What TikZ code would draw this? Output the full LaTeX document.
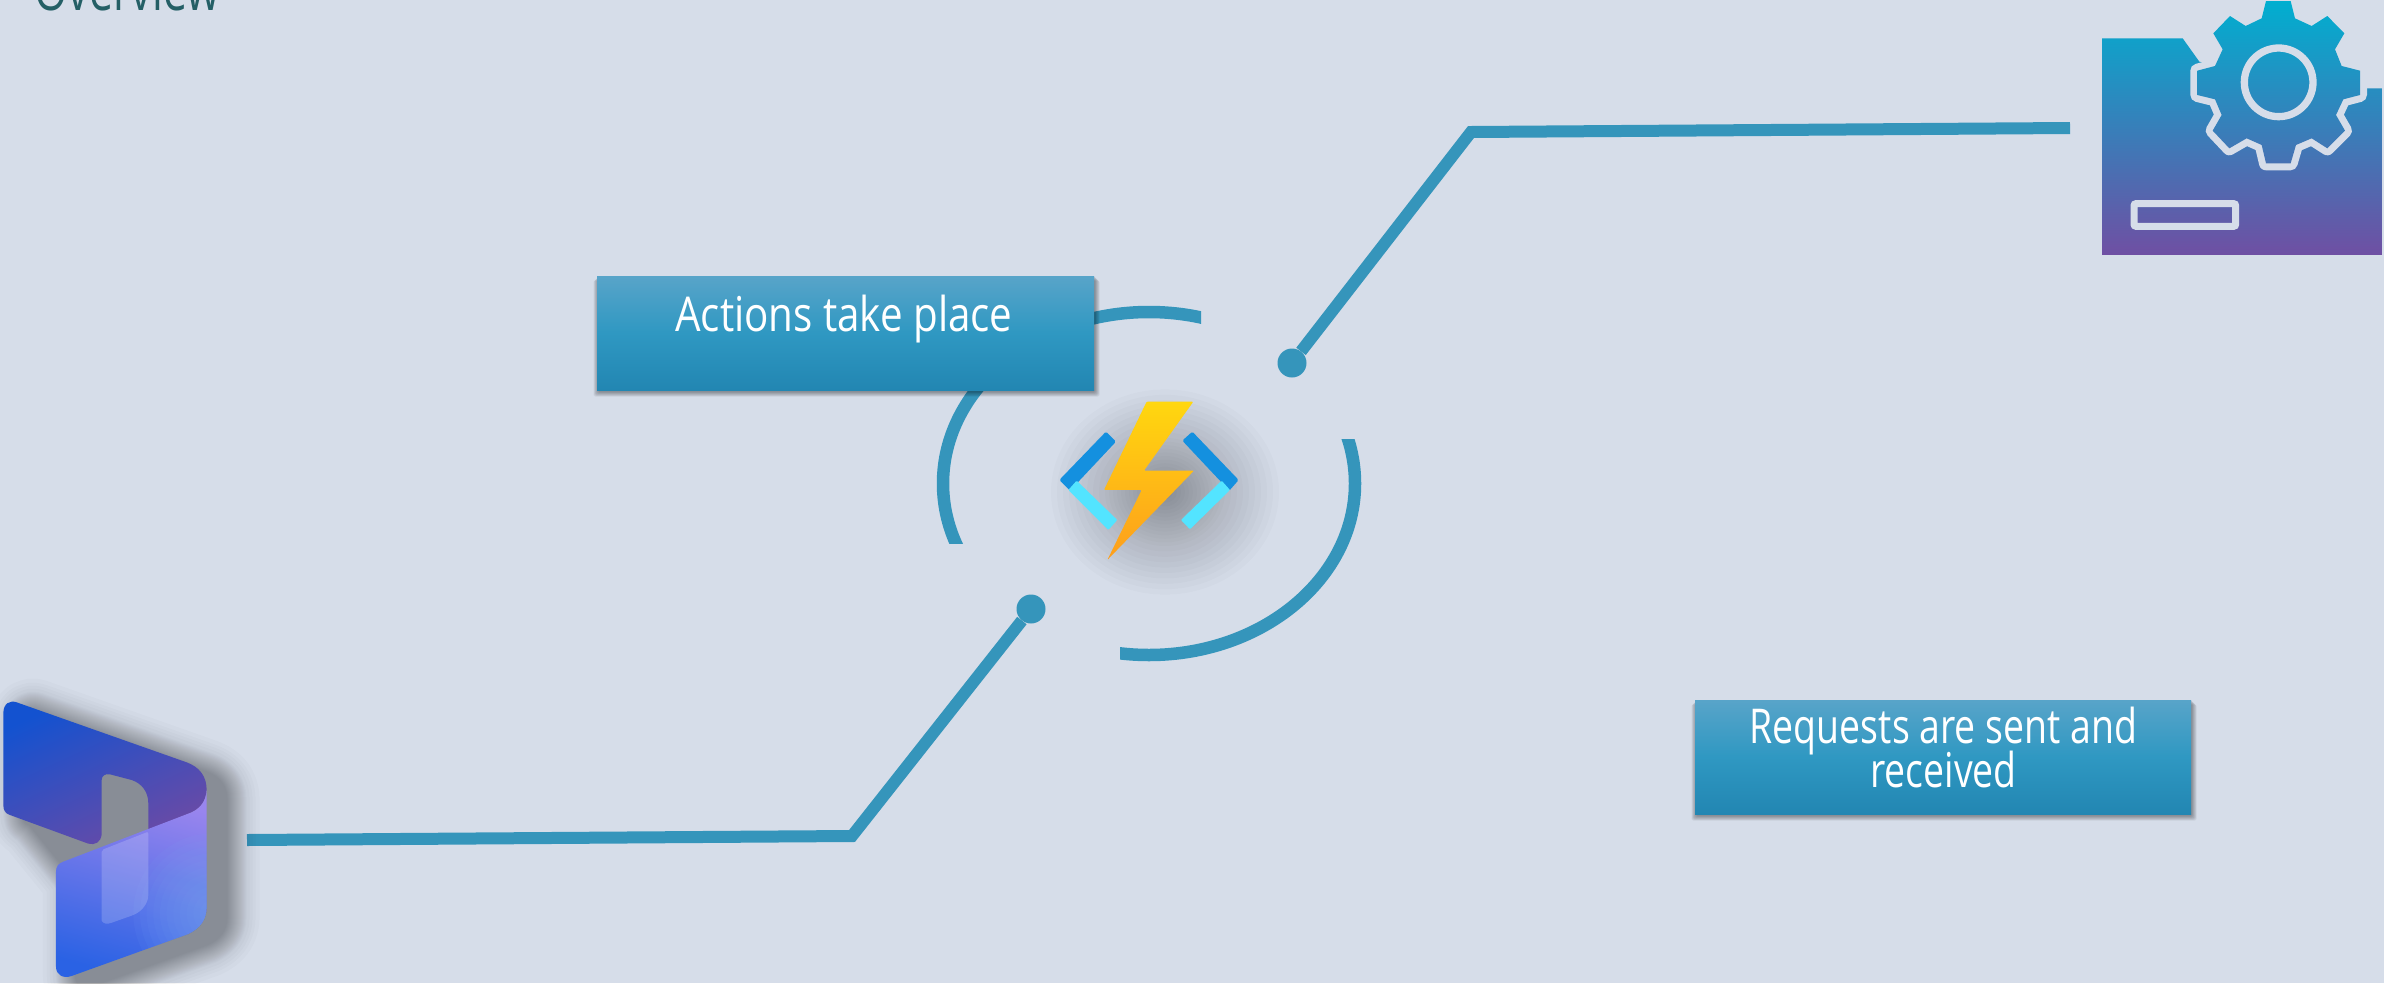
\documentclass[tikz,border=0pt]{standalone}
\usepackage{fontspec}
\newfontfamily\abel[FakeStretch=0.84]{Open Sans}
\newfontfamily\abelb[FakeStretch=0.78]{Open Sans}
\newfontfamily\abelhead[FakeStretch=0.74]{Open Sans}
\definecolor{bgc}{HTML}{D6DDE9}
\definecolor{linec}{HTML}{3595BB}
\definecolor{boxtop}{HTML}{58A4C9}
\definecolor{boxmid}{HTML}{2F98C2}
\definecolor{boxbot}{HTML}{2286B2}
\definecolor{headc}{HTML}{245F66}
\definecolor{cfgtop}{HTML}{00AFD0}
\definecolor{cfgmid}{HTML}{3385B8}
\definecolor{cfgbot}{HTML}{6F4FA3}
\tikzset{
  conn/.style={draw=linec,line width=12pt,line join=miter},
  ring/.style={draw=linec,line width=12.5pt},
  dotnode/.style={circle,fill=linec,minimum size=29pt,inner sep=0pt},
  tbox/.style={rectangle,minimum width=497pt,minimum height=114pt,inner sep=0pt,
    top color=boxtop,bottom color=boxbot,middle color=boxmid,text=white,align=center},
  gearstroke/.style={draw=bgc,line width=14pt,line join=round},
  boxtext/.style={anchor=base,inner sep=0pt,text=white,font=\abel\fontsize{48}{44}\selectfont},
  boxtextb/.style={anchor=base,inner sep=0pt,text=white,font=\abelb\fontsize{48}{44}\selectfont},
  cfgshade/.style={top color=cfgtop,middle color=cfgmid,bottom color=cfgbot},
}
\def\dynupper{(10,100) .. controls (10,70) and (30,60) .. (50,67) -- (560,247) .. controls (600,262) and (620,290) .. (620,330) .. controls (618,365) and (600,385) .. (575,397) -- (445,452) -- (445,370) .. controls (445,335) and (425,310) .. (395,300) -- (330,283) .. controls (315,280) and (305,288) .. (305,300) -- (305,465) .. controls (303,485) and (285,497) .. (265,491) -- (30,405) .. controls (15,400) and (10,390) .. (10,375) -- cycle}
\def\dynlower{(168,575) .. controls (168,560) and (175,550) .. (190,545) -- (575,397) .. controls (600,385) and (618,365) .. (620,330) -- (620,680) .. controls (620,720) and (600,745) .. (565,762) -- (215,888) .. controls (190,897) and (168,885) .. (168,860) -- cycle}
\def\dynall{(10,100) .. controls (10,70) and (30,60) .. (50,67) -- (560,247) .. controls (600,262) and (620,290) .. (620,330) -- (620,680) .. controls (620,720) and (600,745) .. (565,762) -- (215,888) .. controls (190,897) and (168,885) .. (168,860) -- (168,575) -- (30,405) .. controls (15,400) and (10,390) .. (10,375) -- cycle}
\def\gearpath{(558,3) -- (632,3) -- (645,55) -- (695,78) -- (742,48) -- (793,100) -- (765,148) -- (785,198) -- (840,212) -- (840,285) -- (790,298) -- (768,345) -- (795,392) -- (742,445) -- (695,415) -- (648,435) -- (632,490) -- (558,490) -- (545,435) -- (500,415) -- (448,445) -- (398,392) -- (425,345) -- (405,298) -- (352,285) -- (352,212) -- (405,198) -- (428,148) -- (400,100) -- (450,48) -- (497,78) -- (545,55) -- cycle}
\begin{document}
\begin{tikzpicture}[x=1pt,y=-1pt]
\useasboundingbox (0,0) rectangle (2384,983);
\fill[bgc] (0,0) rectangle (2384,983);

% heading
\node[anchor=base west,inner sep=0pt,text=headc,font=\abelhead\fontsize{58}{58}\selectfont] (head) at (34,10) {Overview};

% ring
\begin{scope}
  \clip (900,280) rectangle (1201,543);
  \draw[ring] (1149,483.5) ellipse [x radius=206,y radius=171.5];
\end{scope}
\begin{scope}
  \clip (1120,439) rectangle (1400,680);
  \draw[ring] (1149,483.5) ellipse [x radius=206,y radius=171.5];
\end{scope}

% functions icon shadow
\foreach \r in {4,8,...,60,66,72,...,116}{
  \fill[black,opacity=.0175] (1165,492) ellipse [x radius=\r,y radius=\r*0.9];
}

% functions icon
\begin{scope}[shift={(900,280)},x=0.3333pt,y=-0.3333pt]
  \fill[rounded corners=1.5pt,color={rgb,255:red,20;green,144;blue,223}] (618,455) -- (648,485) -- (510,632) -- (478,600) -- cycle;
  \fill[rounded corners=1.5pt,color={rgb,255:red,20;green,144;blue,223}] (877,455) -- (847,482) -- (988,632) -- (1016,600) -- cycle;
  \fill[rounded corners=1pt,color={rgb,255:red,83;green,228;blue,255}] (530,602) -- (652,720) -- (625,750) -- (505,630) -- cycle;
  \fill[rounded corners=1pt,color={rgb,255:red,83;green,228;blue,255}] (965,602) -- (990,630) -- (870,748) -- (843,720) -- cycle;
  \shade[top color={rgb,255:red,255;green,215;blue,15},bottom color={rgb,255:red,254;green,158;blue,28},rounded corners=1pt]
    (740,365) -- (880,365) -- (732,572) -- (882,572) -- (622,840) -- (725,630) -- (612,630) -- cycle;
\end{scope}

% connectors
\node[dotnode] (dotL) at (1031,609) {};
\node[dotnode] (dotR) at (1292,363) {};
\coordinate (dynEnd) at (247,840);
\coordinate (elbowL) at (852,836);
\coordinate (elbowR) at (1471,132);
\coordinate (gearEnd) at (2070,128);
\draw[conn] (dynEnd) -- (elbowL) -- (dotL);
\draw[conn] (gearEnd) -- (elbowR) -- (dotR);

% dynamics icon
\begin{scope}[shift={(0,680)},x=0.3333pt,y=-0.3333pt]
  \begin{scope}[shift={(60,30)}]
    \foreach \w in {2,4,...,40,46,52,58,66}{
      \begin{scope}[transparency group,opacity=.016]
        \filldraw[black,line width=\w pt,line join=round] \dynall;
      \end{scope}
    }
  \end{scope}
  \shade[left color={rgb,255:red,19;green,82;blue,208},right color={rgb,255:red,107;green,74;blue,165},shading angle=25] \dynupper;
  \shade[top color={rgb,255:red,153;green,133;blue,238},bottom color={rgb,255:red,42;green,98;blue,228},shading angle=-15] \dynlower;
  \begin{scope}
    \clip \dynlower;
    \foreach \r in {20,40,...,240}{
      \fill[color={rgb,255:red,122;green,170;blue,248},opacity=.07] (640,700) circle (\r);
    }
  \end{scope}
  \fill[white,opacity=.18,rounded corners=2pt] (305,510) -- (445,455) -- (445,640) .. controls (445,670) and (425,695) .. (395,707) -- (330,730) .. controls (315,733) and (305,725) .. (305,715) -- cycle;
\end{scope}

% config icon
\begin{scope}[shift={(2080,0)},x=0.3333pt,y=-0.3333pt]
  \begin{scope}
    \clip (66,115) -- (308,115) -- (358,185) -- (596,247) -- (860,265) -- (906,265) -- (906,765) -- (66,765) -- cycle;
    \shade[cfgshade] (66,0) rectangle (906,765);
  \end{scope}
  \path[gearstroke] \gearpath;
  \begin{scope}
    \clip \gearpath;
    \shade[cfgshade] (66,0) rectangle (906,765);
  \end{scope}
  \draw[draw=bgc,line width=7.3pt] (596,247) circle (103);
  \draw[draw=bgc,line width=7pt,rounded corners=2pt] (162,611) rectangle (467,679);
\end{scope}

% box shadows
\foreach \w in {0,1.5,...,9}{
  \fill[black,opacity=.06,rounded corners=2pt] (597-\w/2+1,276+\w/2) rectangle (1094+\w/2+1,390+\w/2+2);
  \fill[black,opacity=.06,rounded corners=2pt] (1695-\w/2+1,700+\w/2) rectangle (2191+\w/2+1,814+\w/2+2);
}

% boxes
\node[tbox] (actions) at (845.5,333) {};
\node[tbox,minimum width=496pt] (requests) at (1943,757) {};
\node[boxtext] (actionsT) at (844,331) {Actions take place};
\node[boxtextb] (requestsA) at (1943.5,743) {Requests are sent and};
\node[boxtextb] (requestsB) at (1943.5,787) {received};
\end{tikzpicture}
\end{document}
